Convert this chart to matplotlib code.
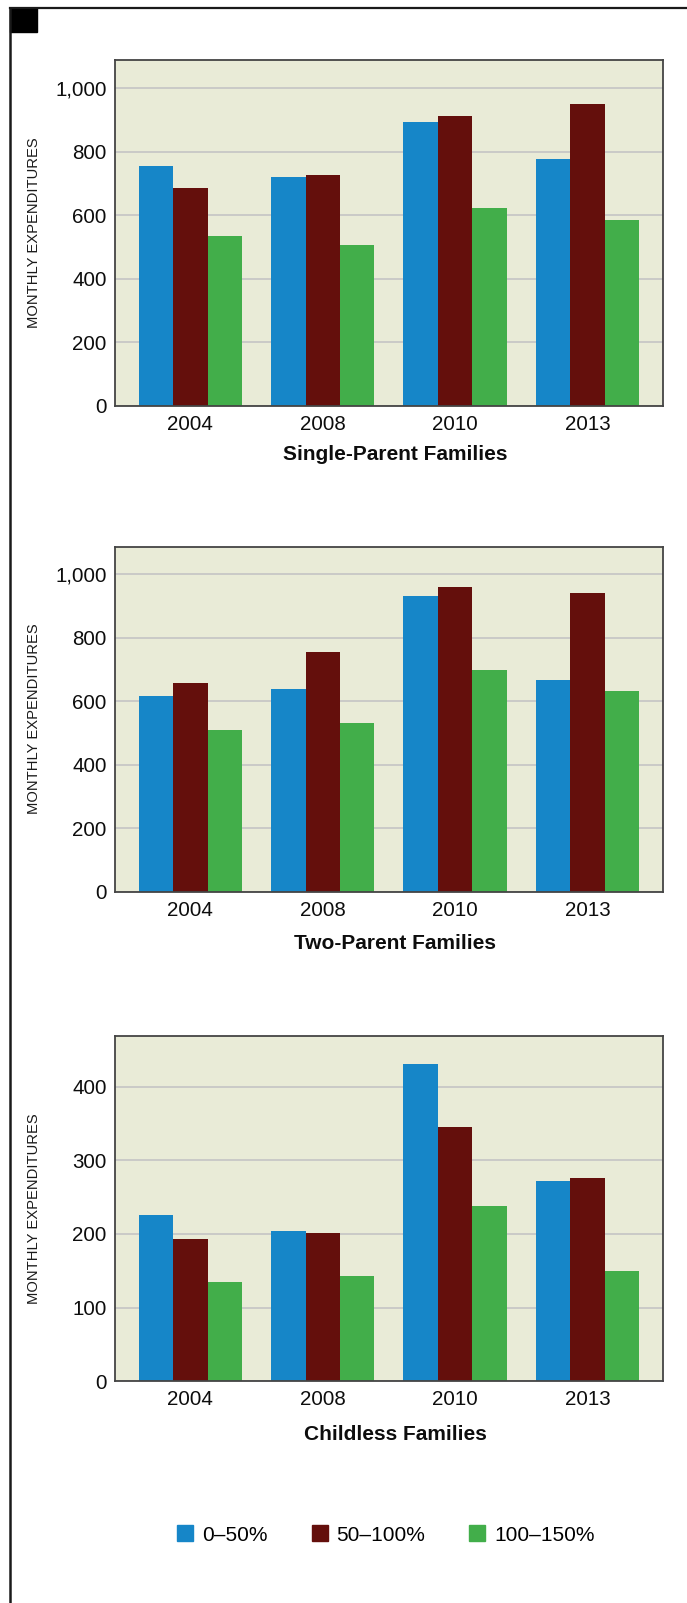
import matplotlib
matplotlib.use('Agg')
import matplotlib.pyplot as plt
import matplotlib.patches as mpatches
from matplotlib.lines import Line2D
from matplotlib.ticker import FuncFormatter
import numpy as np

plt.rcParams['font.family'] = ['Liberation Sans', 'DejaVu Sans']

# data
years = ['2004', '2008', '2010', '2013']
series_labels = ['0–50%', '50–100%', '100–150%']

single_0_50 = [755, 720, 893, 777]
single_50_100 = [685, 726, 912, 950]
single_100_150 = [534, 506, 622, 585]

two_0_50 = [618, 640, 933, 666]
two_50_100 = [656, 754, 961, 940]
two_100_150 = [508, 530, 697, 631]

childless_0_50 = [226, 204, 431, 272]
childless_50_100 = [193, 201, 345, 276]
childless_100_150 = [135, 143, 238, 150]

colors = ['#1686c8', '#640f0c', '#42ae4a']

W, H = 687, 1603
fig = plt.figure(figsize=(W / 100, H / 100), dpi=100)

# (title, series, ymax, yticks, axes top px, axes bottom px, title y px)
panels = [
    ('Single-Parent Families', [single_0_50, single_50_100, single_100_150],
     1088, [0, 200, 400, 600, 800, 1000], 60.3, 405.8, 455),
    ('Two-Parent Families', [two_0_50, two_50_100, two_100_150],
     1088, [0, 200, 400, 600, 800, 1000], 546.5, 891.5, 943.5),
    ('Childless Families', [childless_0_50, childless_50_100, childless_100_150],
     469, [0, 100, 200, 300, 400], 1035.7, 1381.3, 1434),
]

ax_left, ax_right = 114.5, 663.3
x = np.arange(len(years))
width = 0.26

for title, series, ymax, ticks, top, bottom, title_y in panels:
    ax = fig.add_axes([ax_left / W, 1 - bottom / H,
                       (ax_right - ax_left) / W, (bottom - top) / H])
    for i, vals in enumerate(series):
        ax.bar(x + (i - 1) * width, vals, width, color=colors[i],
               label=series_labels[i], zorder=3, linewidth=0)
    ax.set_xlim(-0.573, 3.573)
    ax.set_ylim(0, ymax)
    ax.set_yticks(ticks)
    ax.yaxis.set_major_formatter(FuncFormatter(lambda v, p: f'{int(v):,}'))
    ax.set_xticks(x, years)
    ax.tick_params(axis='y', length=0, labelsize=14.8, pad=5.5, colors='#0d0d0d')
    ax.tick_params(axis='x', length=0, labelsize=14.8, pad=6.5, colors='#0d0d0d')
    ax.grid(axis='y', color='#c4c4c4', linewidth=1.2, zorder=0)
    ax.set_axisbelow(True)
    ax.set_facecolor('#e9ebd7')
    for sp in ax.spines.values():
        sp.set_color('#444444')
        sp.set_linewidth(1.3)
        sp.set_zorder(4)

    fig.text(34 / W, 1 - (top + bottom) / 2 / H, 'MONTHLY EXPENDITURES',
             rotation=90, ha='center', va='center', fontsize=10.6, color='#1a1a1a')
    fig.text(395 / W, 1 - title_y / H, title, ha='center', va='center',
             fontsize=15, fontweight='bold', color='#0d0d0d')

handles = [mpatches.Patch(color=c) for c in colors]
fig.legend(handles, series_labels, loc='center',
           bbox_to_anchor=(386 / W, 1 - 1535 / H), ncol=3, frameon=False,
           fontsize=15, handlelength=0.77, handleheight=0.77,
           handletextpad=0.43, columnspacing=2.1)

# page frame and corner mark
fig.add_artist(Line2D([10 / W, 1], [1 - 7.5 / H] * 2, color='#1a1a1a', lw=1.6))
fig.add_artist(Line2D([10 / W] * 2, [1 - 7.5 / H, 0], color='#1a1a1a', lw=1.8))
fig.add_artist(mpatches.Rectangle((10 / W, 1 - 32 / H), 27 / W, 24.5 / H,
                                  transform=fig.transFigure, color='black'))

fig.savefig('out.png', dpi=100)
